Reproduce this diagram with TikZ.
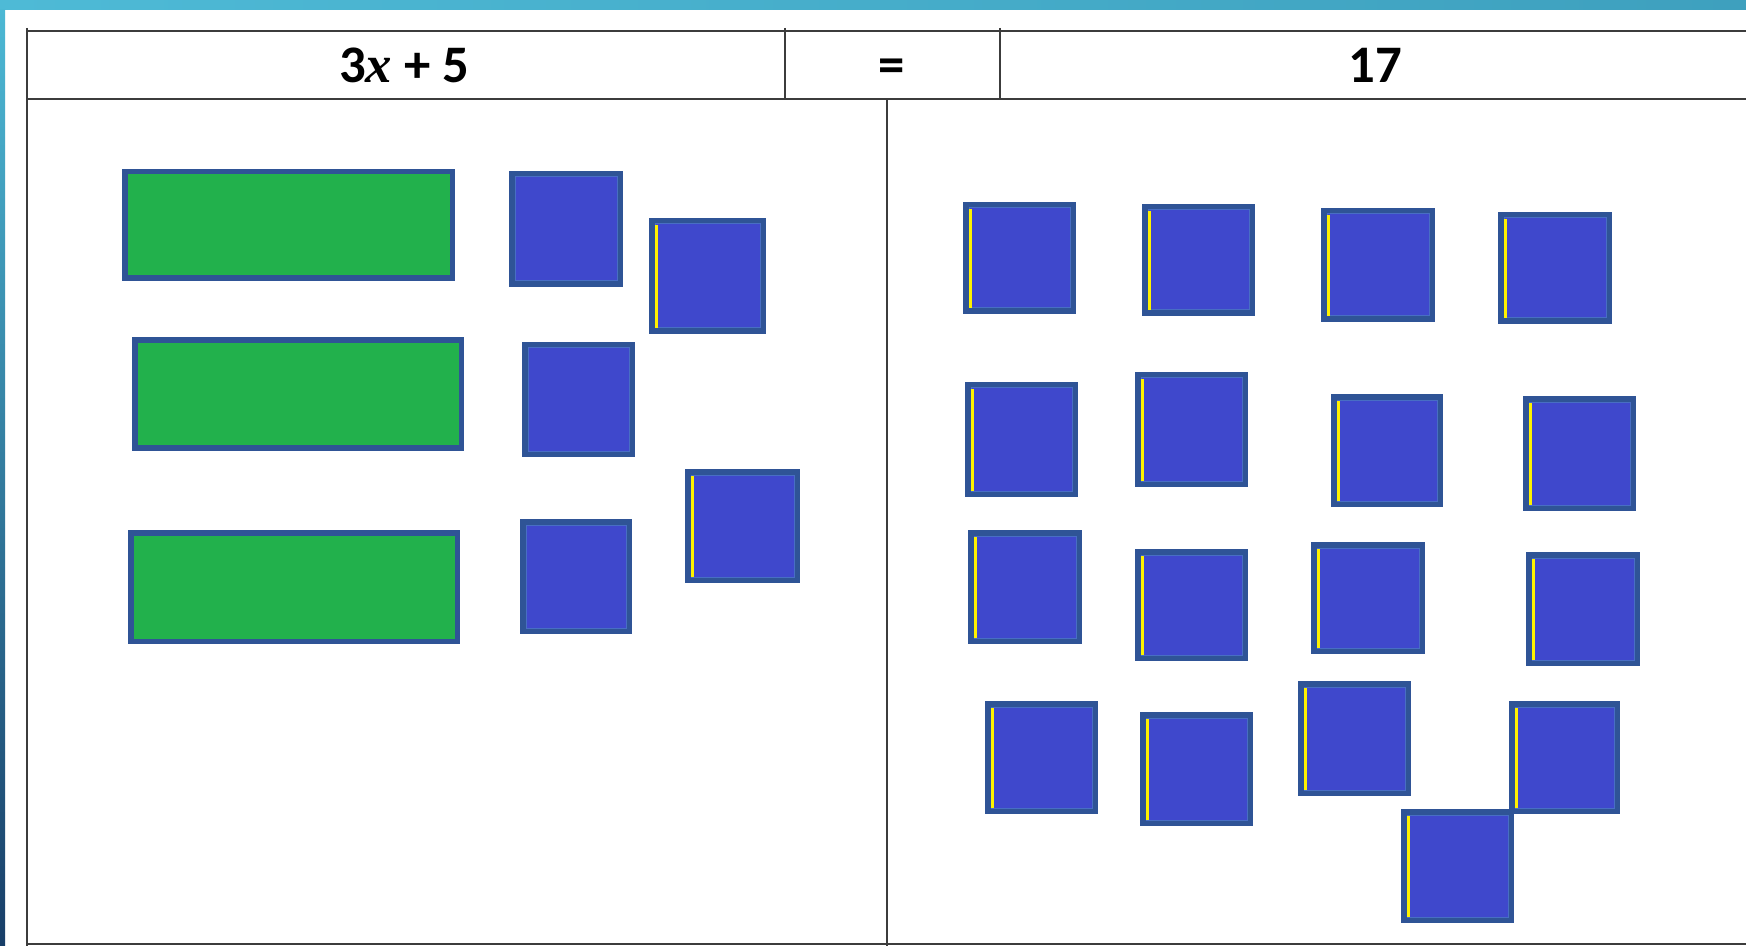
\documentclass[tikz,border=0pt]{standalone}
\usepackage{fontspec}
\setmainfont{Carlito}
\newfontfamily\serifit{Liberation Serif}
\definecolor{topL}{RGB}{78,186,214}
\definecolor{topR}{RGB}{62,160,190}
\definecolor{stripT}{RGB}{76,184,212}
\definecolor{stripB}{RGB}{24,62,104}
\definecolor{edgeblue}{RGB}{47,84,150}
\definecolor{inneredge}{RGB}{72,110,196}
\definecolor{tileblue}{RGB}{63,72,204}
\definecolor{tilegreen}{RGB}{34,177,76}
\definecolor{gridline}{RGB}{60,60,60}
\tikzset{
  grid line/.style={draw=gridline, line width=0.022cm},
  bluetile/.style={draw=edgeblue, line width=0.055cm, fill=tileblue},
  greentile/.style={draw=edgeblue, line width=0.055cm, fill=tilegreen},
  innerline/.style={draw=inneredge, line width=0.01cm},
  yline/.style={draw=yellow, line width=0.024cm},
  hdr/.style={anchor=base, inner sep=0pt, font=\fontsize{15}{18}\selectfont\bfseries},
}
\newcommand\plaintile[4]{%
  \draw[bluetile] (#1+2.75,#2+2.75) rectangle (#3-2.75,#4-2.75);
  \draw[innerline] (#1+6,#2+6) rectangle (#3-6,#4-6);
}
\newcommand\markedtile[4]{%
  \plaintile{#1}{#2}{#3}{#4}%
  \draw[yline] (#1+7.5,#2+7) -- (#1+7.5,#4-6);
}
\newcommand\xtile[4]{%
  \draw[greentile] (#1+2.75,#2+2.75) rectangle (#3-2.75,#4-2.75);
}
\begin{document}
\begin{tikzpicture}[x=0.01cm,y=-0.01cm]
\useasboundingbox (0,0) rectangle (1746,946);
\fill[white] (0,0) rectangle (1746,946);
% frame bands
\shade[left color=topL, right color=topR] (0,0) rectangle (1746,10);
\shade[top color=stripT, bottom color=stripB] (0,10) rectangle (5,946);
% table
\draw[grid line] (27,31) -- (1746,31);
\draw[grid line] (27,99) -- (1746,99);
\draw[grid line] (27,944) -- (1746,944);
\draw[grid line] (27,28) -- (27,946);
\draw[grid line] (785,28) -- (785,99);
\draw[grid line] (1000,28) -- (1000,99);
\draw[grid line] (887,99) -- (887,946);
% header texts
\node[hdr] (lhs) at (404,83) {3{\serifit\itshape x} + 5};
\node[hdr] (eq) at (892,83) {=};
\node[hdr] (rhs) at (1375,83) {17};
% left side: three x tiles
\xtile{122}{169}{455}{281}
\xtile{132}{337}{464}{451}
\xtile{128}{530}{460}{644}
% left side: five unit tiles
\plaintile{509}{171}{623}{287}
\markedtile{649}{218}{766}{334}
\plaintile{522}{342}{635}{457}
\markedtile{685}{469}{800}{583}
\plaintile{520}{519}{632}{634}
% right side: seventeen unit tiles
\markedtile{963}{202}{1076}{314}
\markedtile{1142}{204}{1255}{316}
\markedtile{1321}{208}{1435}{322}
\markedtile{1498}{212}{1612}{324}
\markedtile{965}{382}{1078}{497}
\markedtile{1135}{372}{1248}{487}
\markedtile{1331}{394}{1443}{507}
\markedtile{1523}{396}{1636}{511}
\markedtile{968}{530}{1082}{644}
\markedtile{1135}{549}{1248}{661}
\markedtile{1311}{542}{1425}{654}
\markedtile{1526}{552}{1640}{666}
\markedtile{985}{701}{1098}{814}
\markedtile{1140}{712}{1253}{826}
\markedtile{1298}{681}{1411}{796}
\markedtile{1509}{701}{1620}{814}
\markedtile{1401}{809}{1514}{923}
\end{tikzpicture}
\end{document}
